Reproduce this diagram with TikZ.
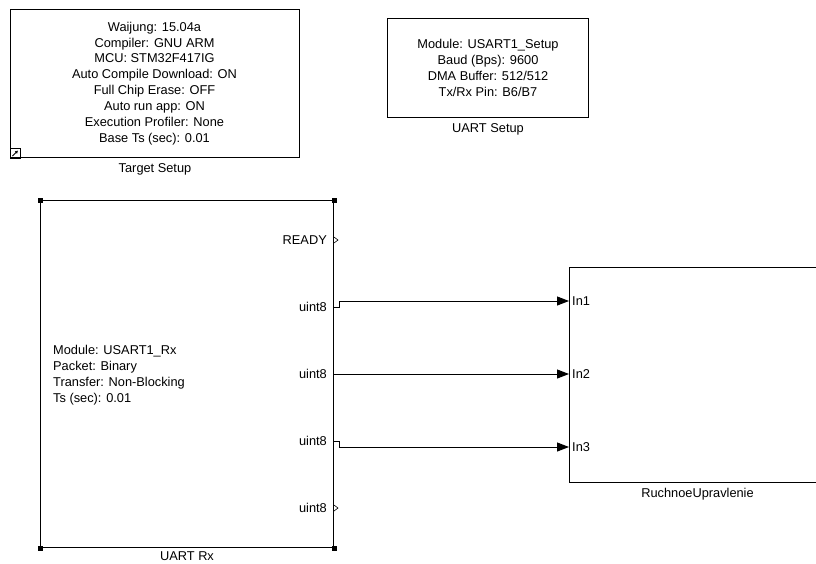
\documentclass[tikz,border=0pt]{standalone}
\usepackage{fontspec}
\setmainfont{Liberation Sans}
\usetikzlibrary{positioning,arrows.meta}
\tikzset{node distance=5pt, auto}
\tikzset{
  block/.style={draw, line width=1pt, inner sep=0pt, anchor=north west},
  txt/.style={font=\fontsize{12.8}{15.9}\selectfont, inner sep=0pt},
  sig/.style={line width=1pt, -{Triangle[length=12pt,width=9pt]}},
  openport/.style={line width=0.6pt}
}

\begin{document}
\begin{tikzpicture}[x=1pt, y=-1pt]
\useasboundingbox[fill=white] (0,0) rectangle (816,563);

\node[block, minimum width=289pt, minimum height=148pt] (tgt) at (10,9) {};
\node[txt, align=center] (tgtinfo) at (154.5,83.5) {Waijung: 15.04a\\Compiler: GNU ARM\\MCU: STM32F417IG\\Auto Compile Download: ON\\Full Chip Erase: OFF\\Auto run app: ON\\Execution Profiler: None\\Base Ts (sec): 0.01};
\node[txt, below=of tgt] (tgtlbl) {Target Setup};
\draw[line width=0.6pt] (tgt.south west) rectangle ++(10,-10);
\draw[line width=1pt, -{Latex[length=3pt,width=3.5pt]}] ([shift={(2.5,-2)}]tgt.south west) -- ++(5.5,-5.5);

\node[block, minimum width=201pt, minimum height=99pt] (uset) at (387,18) {};
\node[txt, align=center] (usetinfo) at (uset.center) {Module: USART1\_Setup\\Baud (Bps): 9600\\DMA Buffer: 512/512\\Tx/Rx Pin: B6/B7};
\node[txt, below=of uset] (usetlbl) {UART Setup};

\node[block, minimum width=293pt, minimum height=347pt] (rx) at (40,200) {};
\foreach \c in {north west, north east, south west, south east}
  \fill ([shift={(-2.5,-2.5)}]rx.\c) rectangle ++(5,5);
\node[txt, align=left, anchor=west] (rxinfo) at (53,375.5) {Module: USART1\_Rx\\Packet: Binary\\Transfer: Non-Blocking\\Ts (sec): 0.01};
\node[txt, below=3pt of rx] (rxlbl) {UART Rx};

\node[txt, anchor=east] (ready) at (327,240) {READY};
\node[txt, anchor=east] (out1) at (327,307) {uint8};
\node[txt, anchor=east] (out2) at (327,374) {uint8};
\node[txt, anchor=east] (out3) at (327,441) {uint8};
\node[txt, anchor=east] (out4) at (327,508) {uint8};
\coordinate (p0) at (rx.east |- ready);
\coordinate (p1) at (rx.east |- out1);
\coordinate (p2) at (rx.east |- out2);
\coordinate (p3) at (rx.east |- out3);
\coordinate (p4) at (rx.east |- out4);
\draw[openport] ([yshift=-3]p0) -- ([xshift=4]p0) -- ([yshift=3]p0);
\draw[openport] ([yshift=-3]p4) -- ([xshift=4]p4) -- ([yshift=3]p4);

\node[block, minimum width=256pt, minimum height=215pt] (ruch) at (569,267) {};
\node[txt, below=of ruch] (ruchlbl) {RuchnoeUpravlenie};
\coordinate (in1) at (569,301);
\coordinate (in2) at (569,374);
\coordinate (in3) at (569,447);
\node[txt, anchor=west] (in1lbl) at ([xshift=3]in1) {In1};
\node[txt, anchor=west] (in2lbl) at ([xshift=3]in2) {In2};
\node[txt, anchor=west] (in3lbl) at ([xshift=3]in3) {In3};

\draw[sig] (p1) -- ++(5,0) |- (in1);
\draw[sig] (p2) -- (in2);
\draw[sig] (p3) -- ++(5,0) |- (in3);
\end{tikzpicture}
\end{document}
